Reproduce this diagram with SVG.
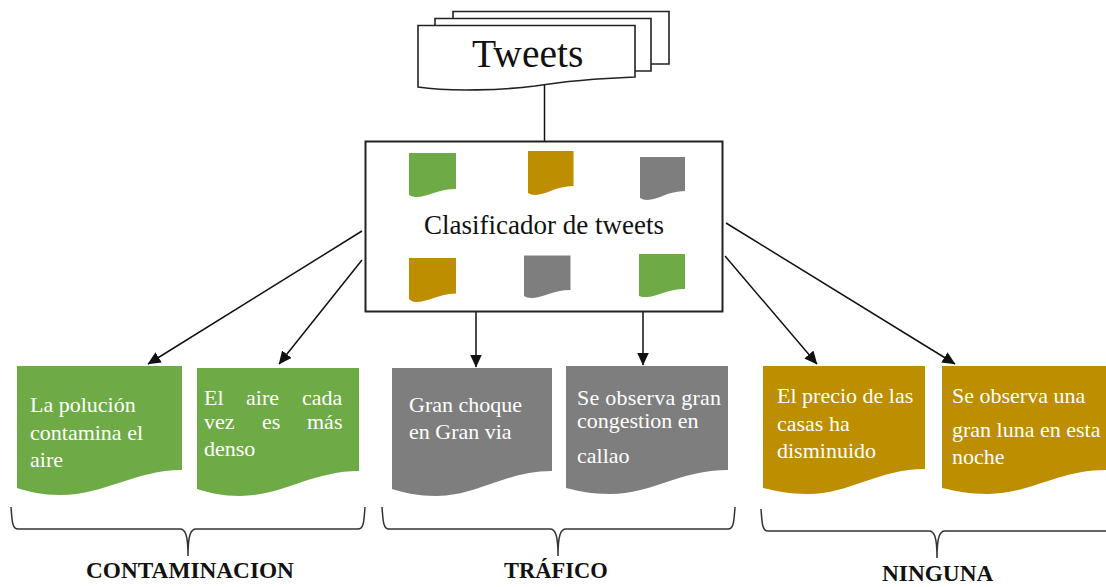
<svg xmlns="http://www.w3.org/2000/svg" width="1106" height="587" viewBox="0 0 1106 587">
<style>
text{font-family:"Liberation Serif","Times New Roman",serif}
.sheet{fill:#fff;stroke:#222;stroke-width:1.6}
.box{fill:#fff;stroke:#222;stroke-width:2}
.g{fill:#6EAB46}.o{fill:#BC8E00}.y{fill:#7E7E7E}
.t{font-size:22px;fill:#fff}
.lab{font-size:23.300px;font-weight:bold;fill:#111}
.conn{fill:none;stroke:#111;stroke-width:1.5}
.brace{fill:none;stroke:#333;stroke-width:1.5}
</style>
<defs>
<marker id="ah" viewBox="0 0 13 12" refX="12.500" refY="6" markerWidth="13" markerHeight="12" markerUnits="userSpaceOnUse" orient="auto"><path d="M0 0L13 6L0 12Z" fill="#111"/></marker>
</defs>
<g id="connectors">
<path class="conn" d="M544.500 83V141"/>
<path class="conn" marker-end="url(#ah)" d="M362 231L148 364"/>
<path class="conn" marker-end="url(#ah)" d="M362 260L279 364"/>
<path class="conn" marker-end="url(#ah)" d="M476 311V367"/>
<path class="conn" marker-end="url(#ah)" d="M643 311V365"/>
<path class="conn" marker-end="url(#ah)" d="M725 256L817 364"/>
<path class="conn" marker-end="url(#ah)" d="M726 223L955 364"/>
</g>
<g id="tweets">
<path class="sheet" d="M453 18V11.500H669V64H651"/>
<path class="sheet" d="M435 25V18.500H651V71H635"/>
<path class="sheet" d="M418 25.500H635V77C585 79 560 82 535 86C505 90 450 92 418 87Z"/>
<text x="472" y="67" font-size="39.500" fill="#111">Tweets</text>
</g>
<g id="clasificador">
<rect class="box" x="365.500" y="141.500" width="357" height="170"/>
<path class="g" d="M409 153H456V189C438 189 428 197 416 197C413 197 411 196 409 195Z"/>
<path class="o" d="M528 151H573.500V186C556 186 546 195 535 195C532 195 530 194 528 193Z"/>
<path class="y" d="M640 157H685V191C668 191 658 200 647 200C644 200 642 199 640 198Z"/>
<path class="o" d="M409 258H456V293.500C438 294 428 302 416 302C413 302 411 301 409 299Z"/>
<path class="y" d="M524 255.500H570.500V290C553 290 543 298 531 298C528 298 526 297 524 296Z"/>
<path class="g" d="M639 254H685V289C667 289 657 297 646 297C643 297 641 297 639 296Z"/>
<text x="424" y="234" font-size="27" fill="#111">Clasificador de tweets</text>
</g>
<g id="doc-polucion">
<path class="g" d="M17 366H182V470C135 470 105 495 60 495C42 495 30 492 17 488Z"/>
<text class="t" x="30" y="412">La polución</text>
<text class="t" x="30" y="440">contamina el</text>
<text class="t" x="30" y="467">aire</text>
</g>
<g id="doc-aire">
<path class="g" d="M197 368H359V471C312 471 282 496 240 496C222 496 210 493 197 489Z"/>
<text class="t" x="204" y="405">El</text><text class="t" x="246" y="405">aire</text><text class="t" x="302" y="405">cada</text>
<text class="t" x="204" y="429">vez</text><text class="t" x="262" y="429">es</text><text class="t" x="307" y="429">más</text>
<text class="t" x="204" y="456">denso</text>
</g>
<g id="doc-choque">
<path class="y" d="M392 368H552V471C505 471 478 496 436 496C418 496 405 493 392 489Z"/>
<text class="t" x="409" y="412">Gran choque</text>
<text class="t" x="409" y="439">en Gran via</text>
</g>
<g id="doc-congestion">
<path class="y" d="M566 366H728V470C680 470 652 494 610 494C592 494 578 491 566 488Z"/>
<text class="t" x="577" y="405" textLength="144">Se observa gran</text>
<text class="t" x="577" y="428">congestion en</text>
<text class="t" x="577" y="463">callao</text>
</g>
<g id="doc-precio">
<path class="o" d="M763 366H925V469C878 469 850 494 808 494C790 494 776 491 763 488Z"/>
<text class="t" x="777" y="403">El precio de las</text>
<text class="t" x="777" y="431">casas ha</text>
<text class="t" x="777" y="458">disminuido</text>
</g>
<g id="doc-luna">
<path class="o" d="M942 366H1106V470C1058 470 1030 494 988 494C970 494 955 491 942 488Z"/>
<text class="t" x="952" y="403">Se observa una</text>
<text class="t" x="952" y="437">gran luna en esta</text>
<text class="t" x="952" y="464">noche</text>
</g>
<g id="grupo-contaminacion">
<path class="brace" d="M11 507C12 520 12 529 18 529H180C185 529 188 534 188 556C188 534 191 529 196 529H358C364 529 364 520 365 507"/>
<text class="lab" x="86" y="578">CONTAMINACION</text>
</g>
<g id="grupo-trafico">
<path class="brace" d="M382 507C383 520 383 529 389 529H550C555 529 558 534 558 556C558 534 561 529 566 529H728C734 529 734 520 735 507"/>
<text class="lab" x="504" y="578" style="font-size:22.500px">TRÁFICO</text>
</g>
<g id="grupo-ninguna">
<path class="brace" d="M761 509C762 522 762 531 768 531H929C934 531 937 536 937 558C937 536 940 531 945 531H1106"/>
<text class="lab" x="882" y="581">NINGUNA</text>
</g>
</svg>
